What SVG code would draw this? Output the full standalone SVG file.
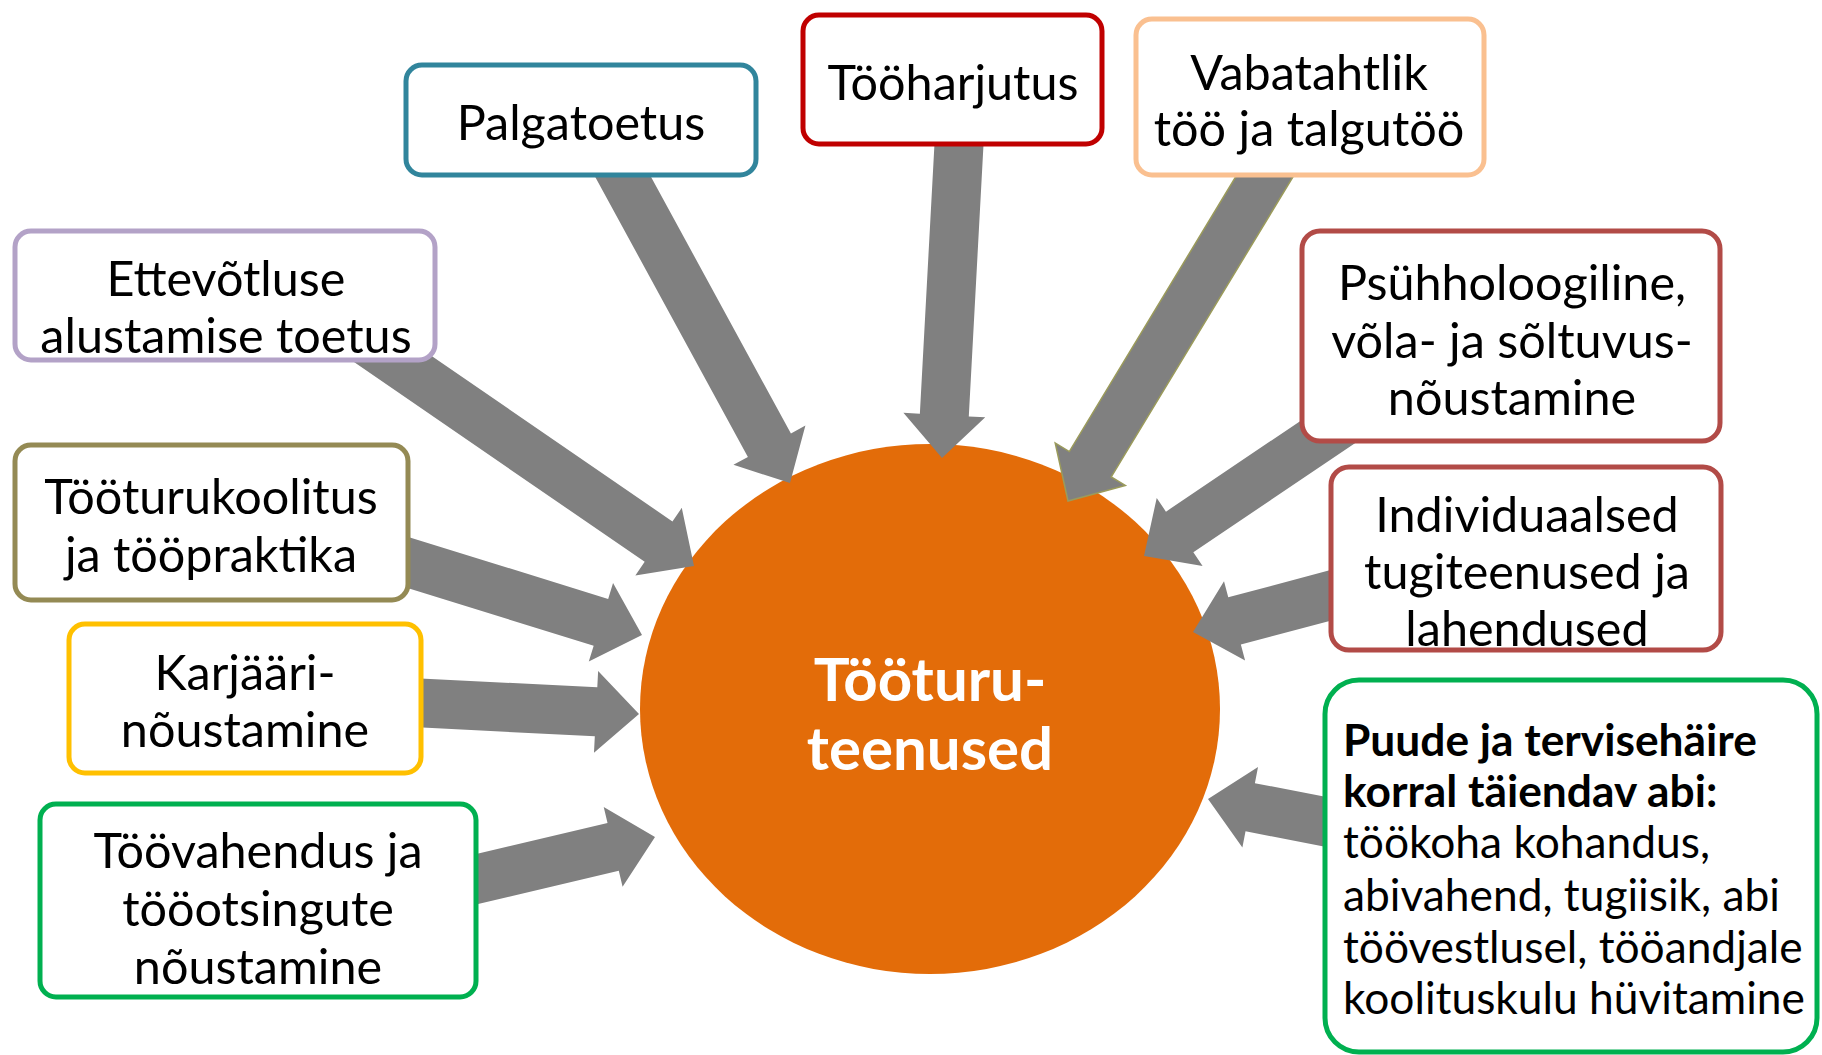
<svg xmlns="http://www.w3.org/2000/svg" width="1822" height="1055" viewBox="0 0 1822 1055">
<style>
.box{fill:#ffffff;stroke-width:5}
.t{font-family:Lato,"Open Sans","Liberation Sans",sans-serif;font-size:48.5px;fill:#000000;text-anchor:middle}
.tl{font-family:Lato,"Open Sans","Liberation Sans",sans-serif;font-size:44.3px;fill:#000000}
.b{font-weight:bold}
.arr{fill:#808080}
.ct{font-family:Lato,"Open Sans","Liberation Sans",sans-serif;font-size:60px;font-weight:bold;fill:#ffffff;text-anchor:middle}
</style>
<rect width="1822" height="1055" fill="#ffffff"/>
<g id="center">
<ellipse cx="930" cy="709" rx="290" ry="265" fill="#E36C09"/>
<text class="ct" x="930" y="701">Tööturu-</text>
<text class="ct" x="930" y="770">teenused</text>
</g>
<g id="connectors">
<polygon class="arr" transform="translate(790,483) rotate(61.4)" points="-379,-24.5 -43,-24.5 -43,-41 0,0 -43,41 -43,24.5 -379,24.5"/>
<polygon class="arr" transform="translate(942,458) rotate(93.1)" points="-334,-24.5 -43,-24.5 -43,-41 0,0 -43,41 -43,24.5 -334,24.5"/>
<polygon class="arr" stroke="#9B9B5B" stroke-width="1.5" transform="translate(1068,501) rotate(121.2)" points="-405,-24.5 -43,-24.5 -43,-41 0,0 -43,41 -43,24.5 -405,24.5"/>
<polygon class="arr" transform="translate(1144,556) rotate(146)" points="-250,-24.5 -43,-24.5 -43,-41 0,0 -43,41 -43,24.5 -250,24.5"/>
<polygon class="arr" transform="translate(1193,632) rotate(165.1)" points="-170,-24.5 -43,-24.5 -43,-41 0,0 -43,41 -43,24.5 -170,24.5"/>
<polygon class="arr" transform="translate(1208,799) rotate(191)" points="-150,-24.5 -43,-24.5 -43,-41 0,0 -43,41 -43,24.5 -150,24.5"/>
<polygon class="arr" transform="translate(694,566) rotate(34.5)" points="-405,-24.5 -43,-24.5 -43,-41 0,0 -43,41 -43,24.5 -405,24.5"/>
<polygon class="arr" transform="translate(642,635) rotate(17.2)" points="-270,-24.5 -43,-24.5 -43,-41 0,0 -43,41 -43,24.5 -270,24.5"/>
<polygon class="arr" transform="translate(639,714) rotate(2.9)" points="-245,-24.5 -43,-24.5 -43,-41 0,0 -43,41 -43,24.5 -245,24.5"/>
<polygon class="arr" transform="translate(655,837) rotate(-13.3)" points="-205,-24.5 -43,-24.5 -43,-41 0,0 -43,41 -43,24.5 -205,24.5"/>
</g>
<g id="palgatoetus">
<rect class="box" x="406" y="65" width="350" height="110" rx="16" stroke="#31859C"/>
<text class="t" x="581" y="140">Palgatoetus</text>
</g>
<g id="tooharjutus">
<rect class="box" x="803" y="15" width="299" height="129" rx="16" stroke="#C00000"/>
<text class="t" x="953" y="100">Tööharjutus</text>
</g>
<g id="vabatahtlik">
<rect class="box" x="1136" y="19" width="348" height="156" rx="16" stroke="#FAC090"/>
<text class="t" x="1309" y="90">Vabatahtlik</text>
<text class="t" x="1309" y="146">töö ja talgutöö</text>
</g>
<g id="psuhholoogiline">
<rect class="box" x="1302" y="231" width="418" height="210" rx="18" stroke="#B24B47"/>
<text class="t" x="1512" y="300">Psühholoogiline,</text>
<text class="t" x="1512" y="358">võla- ja sõltuvus-</text>
<text class="t" x="1512" y="415">nõustamine</text>
</g>
<g id="individuaalsed">
<rect class="box" x="1331" y="467" width="390" height="183" rx="18" stroke="#B24B47"/>
<text class="t" x="1527" y="532">Individuaalsed</text>
<text class="t" x="1527" y="589">tugiteenused ja</text>
<text class="t" x="1527" y="646">lahendused</text>
</g>
<g id="puude">
<rect class="box" x="1325" y="680" width="492" height="372" rx="34" stroke="#00B050"/>
<text class="tl b" x="1343" y="756">Puude ja tervisehäire</text>
<text class="tl b" x="1343" y="807">korral täiendav abi:</text>
<text class="tl" x="1343" y="858">töökoha kohandus,</text>
<text class="tl" x="1343" y="911">abivahend, tugiisik, abi</text>
<text class="tl" x="1343" y="963">töövestlusel, tööandjale</text>
<text class="tl" x="1343" y="1014">koolituskulu hüvitamine</text>
</g>
<g id="ettevotluse">
<rect class="box" x="15" y="231" width="420" height="129" rx="16" stroke="#B3A2C7"/>
<text class="t" x="226" y="296">Ettevõtluse</text>
<text class="t" x="226" y="353">alustamise toetus</text>
</g>
<g id="tooturukoolitus">
<rect class="box" x="15" y="445" width="393" height="155" rx="16" stroke="#948A54"/>
<text class="t" x="211" y="514">Tööturukoolitus</text>
<text class="t" x="211" y="572">ja tööpraktika</text>
</g>
<g id="karjaari">
<rect class="box" x="69" y="624" width="352" height="149" rx="16" stroke="#FFC000"/>
<text class="t" x="245" y="690">Karjääri-</text>
<text class="t" x="245" y="747">nõustamine</text>
</g>
<g id="toovahendus">
<rect class="box" x="40" y="804" width="436" height="193" rx="16" stroke="#00B050"/>
<text class="t" x="258" y="868">Töövahendus ja</text>
<text class="t" x="258" y="926">tööotsingute</text>
<text class="t" x="258" y="984">nõustamine</text>
</g>
</svg>
